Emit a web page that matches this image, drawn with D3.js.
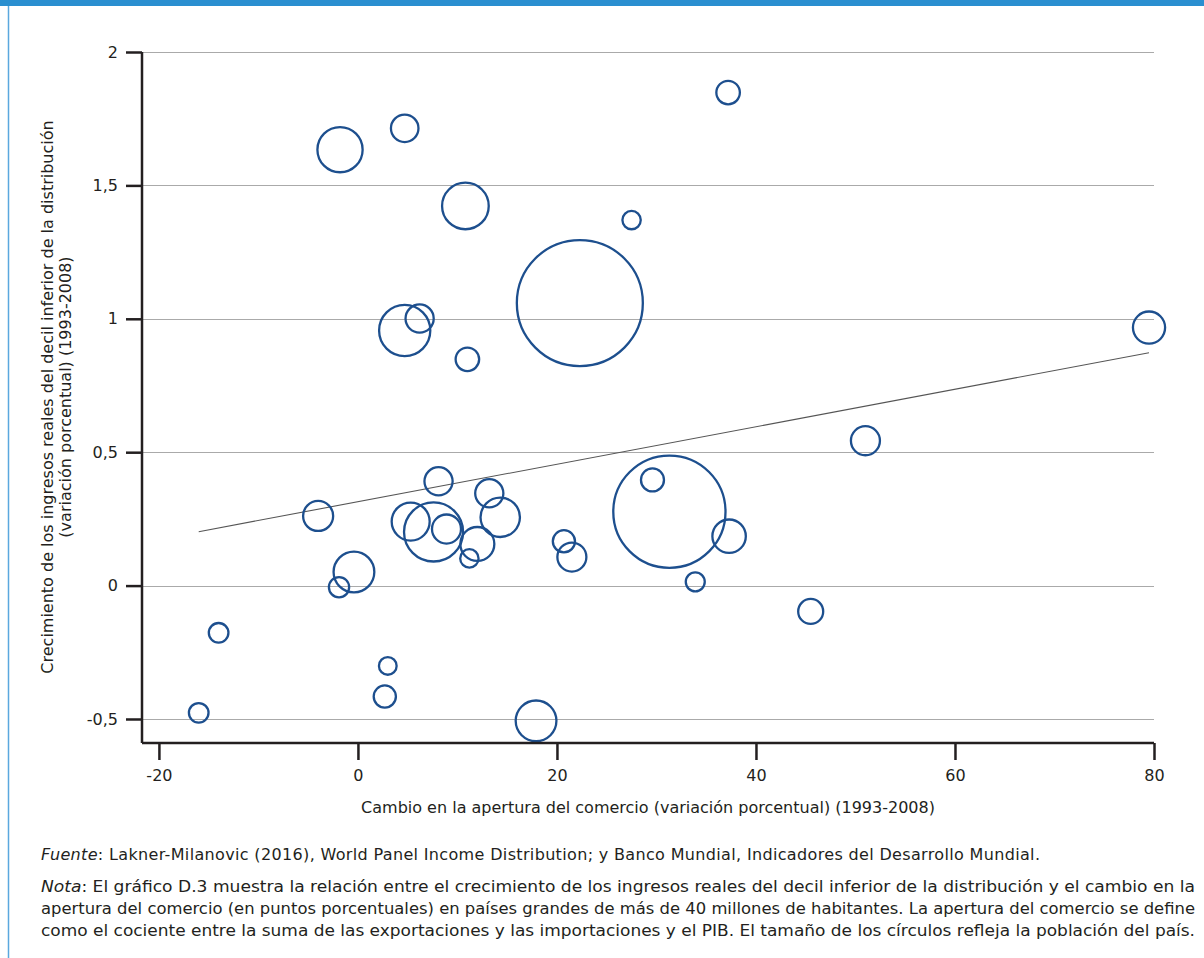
<!DOCTYPE html>
<html>
<head>
<meta charset="utf-8">
<script src="https://cdn.jsdelivr.net/npm/d3@7"></script>
<style>
  body { margin: 0; background: #fff; }
  svg { display: block; font-family: "DejaVu Sans", "Liberation Sans", Arial, sans-serif; }
  .axis text { font-family: "DejaVu Sans", sans-serif; font-size: 16px; fill: #231f20; }
  .axis path, .axis line { stroke: #231f20; stroke-width: 2.5; }
  .grid line { stroke: #aaa; stroke-width: 1; }
  .foot { font-size: 16px; fill: #231f20; }
</style>
</head>
<body>
<svg width="1204" height="958"></svg>
<script>

// change in trade openness (pp), growth of bottom decile real income, population (millions)
var tradeChange = [-16.0, -14.0, -4.0, -1.9, -0.4, 3.0, 2.7, 8.1, 5.3, 7.6, 8.9, 12.0, 11.2, 13.2, 14.3, 17.9,
                   -1.8, 4.7, 10.8, 4.7, 6.2, 11.0, 37.2, 27.5, 22.3, 31.3, 29.6, 37.3, 33.9, 20.7, 21.5, 45.5, 51.0, 79.5];
var incomeGrowth = [-0.477, -0.177, 0.261, -0.006, 0.051, -0.301, -0.416, 0.391, 0.240, 0.201, 0.212, 0.156, 0.102, 0.346, 0.256, -0.507,
                    1.634, 1.714, 1.423, 0.956, 1.001, 0.848, 1.848, 1.370, 1.059, 0.277, 0.396, 0.185, 0.014, 0.166, 0.107, -0.097, 0.543, 0.967];
var population = [32, 32, 75, 34, 138, 26, 41, 66, 120, 290, 70, 96, 28, 66, 129, 138,
                  170, 63, 181, 218, 66, 46, 46, 28, 1320, 1047, 44, 93, 30, 41, 70, 52, 70, 86];

// fitted line endpoints
var trendX = [-16, 79.5];
var trendY = [0.202, 0.873];

var xTicks = [-20, 0, 20, 40, 60, 80];
var yTicks = [-0.5, 0, 0.5, 1, 1.5, 2];

var xTitle = "Cambio en la apertura del comercio (variación porcentual) (1993-2008)";
var yTitle = ["Crecimiento de los ingresos reales del decil inferior de la distribución",
              "(variación porcentual) (1993-2008)"];

var svg = d3.select("svg"),
    margin = {top: 52, right: 50, bottom: 215, left: 142},
    width = +svg.attr("width") - margin.left - margin.right,
    height = +svg.attr("height") - margin.top - margin.bottom;

var x = d3.scaleLinear().domain([-21.7, 80]).range([0, width]),
    y = d3.scaleLinear().domain([-0.59, 2]).range([height, 0]),
    r = d3.scaleSqrt().domain([0, 1320]).range([0, 63]);

// frame decoration
svg.append("rect").attr("x", 0).attr("y", 0).attr("width", 1204).attr("height", 6).attr("fill", "#2a8fd0");
svg.append("line").attr("x1", 8.5).attr("x2", 8.5).attr("y1", 6).attr("y2", 958)
    .attr("stroke", "#5aa8de").attr("stroke-width", 1.5);

var g = svg.append("g")
    .attr("transform", "translate(" + margin.left + "," + margin.top + ")");

// grid
g.append("g").attr("class", "grid")
  .selectAll("line").data(yTicks).enter().append("line")
    .attr("x1", 0).attr("x2", width)
    .attr("y1", function(d) { return Math.round(y(d)) + 0.5; })
    .attr("y2", function(d) { return Math.round(y(d)) + 0.5; });

// trend
var line = d3.line()
    .x(function(d) { return x(d[0]); })
    .y(function(d) { return y(d[1]); });

g.append("path")
    .datum(d3.zip(trendX, trendY))
    .attr("fill", "none")
    .attr("stroke", "#555")
    .attr("stroke-width", 1.1)
    .attr("d", line);

// bubbles
g.append("g").selectAll("circle")
    .data(d3.range(tradeChange.length))
  .enter().append("circle")
    .attr("cx", function(i) { return x(tradeChange[i]); })
    .attr("cy", function(i) { return y(incomeGrowth[i]); })
    .attr("r", function(i) { return r(population[i]); })
    .attr("fill", "none")
    .attr("stroke", "#1d4f8e")
    .attr("stroke-width", 2.3);

// axes
var xAxis = d3.axisBottom(x).tickValues(xTicks).tickSize(17).tickSizeOuter(0).tickPadding(10)
    .tickFormat(function(d) { return d3.format("d")(d).replace("−", "-"); });
var yAxis = d3.axisLeft(y).tickValues(yTicks).tickSize(16).tickSizeOuter(0).tickPadding(8)
    .tickFormat(function(d) { return String(d).replace(".", ","); });

g.append("g").attr("class", "axis axis--x")
    .attr("transform", "translate(0," + height + ")")
    .call(xAxis);

g.append("g").attr("class", "axis axis--y")
    .call(yAxis);

g.select(".axis--y .domain").attr("d", "M0," + y(2) + "V" + height);
g.select(".axis--x .domain").attr("d", "M0,0H" + width);

// axis titles
svg.append("text")
    .attr("x", 648).attr("y", 813)
    .attr("text-anchor", "middle")
    .attr("font-size", 16)
    .attr("fill", "#231f20")
    .text(xTitle);

var yt = svg.append("text")
    .attr("transform", "translate(53,397) rotate(-90)")
    .attr("text-anchor", "middle")
    .attr("font-size", 16)
    .attr("fill", "#231f20");
yt.selectAll("tspan").data(yTitle).enter().append("tspan")
    .attr("x", 0)
    .attr("dy", function(d, i) { return i === 0 ? 0 : 18; })
    .text(function(d) { return d; });

// footnotes
var fuente = svg.append("text").attr("class", "foot").attr("x", 41).attr("y", 860)
    .attr("textLength", 999).attr("lengthAdjust", "spacing");
fuente.append("tspan").attr("font-style", "italic").text("Fuente");
fuente.append("tspan").text(": Lakner-Milanovic (2016), World Panel Income Distribution; y Banco Mundial, Indicadores del Desarrollo Mundial.");

var notaLines = [
  "El gráfico D.3 muestra la relación entre el crecimiento de los ingresos reales del decil inferior de la distribución y el cambio en la",
  "apertura del comercio (en puntos porcentuales) en países grandes de más de 40 millones de habitantes. La apertura del comercio se define",
  "como el cociente entre la suma de las exportaciones y las importaciones y el PIB. El tamaño de los círculos refleja la población del país."
];

notaLines.forEach(function(t, i) {
    var el = svg.append("text").attr("class", "foot")
        .attr("x", 41).attr("y", 892 + i * 22)
        .attr("textLength", 1154).attr("lengthAdjust", "spacingAndGlyphs");
    if (i === 0) {
        el.append("tspan").attr("font-style", "italic").text("Nota");
        el.append("tspan").text(": " + t);
    } else {
        el.text(t);
    }
});

</script>
</body>
</html>
